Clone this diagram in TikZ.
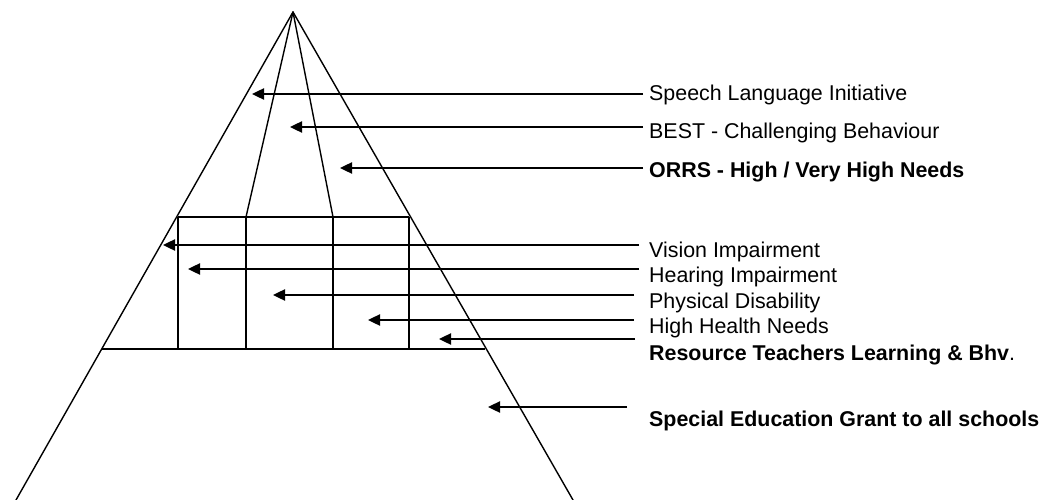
\documentclass[tikz,border=0pt]{standalone}
\usepackage{fontspec}
\setmainfont{Liberation Sans}
\usetikzlibrary{arrows.meta}
\begin{document}
\begin{tikzpicture}[x=1pt,y=-1pt,
  edge/.style={line width=1.4pt,line cap=round,line join=round},
  gridline/.style={line width=1.6pt},
  pointer/.style={line width=2.4pt,-{Triangle[length=12pt,width=11pt]}},
  lbl/.style={anchor=base west,inner sep=0pt,font=\fontsize{21.4}{25}\selectfont},
  blbl/.style={anchor=base west,inner sep=0pt,font=\fontsize{21.4}{25}\selectfont\bfseries}]
\useasboundingbox (0,0) rectangle (1044,500);
% triangle
\coordinate (apex) at (293,12);
\coordinate (bl) at (16,500);
\coordinate (br) at (573,500);
\coordinate (ml) at (102,349);
\coordinate (mr) at (485,349);
\coordinate (b1) at (178,217);
\coordinate (b2) at (246,217);
\coordinate (b3) at (333,217);
\coordinate (b4) at (409,217);
\coordinate (c1) at (178,349);
\coordinate (c2) at (246,349);
\coordinate (c3) at (333,349);
\coordinate (c4) at (409,349);
\draw[edge] (bl) -- (apex) -- (br);
\draw[edge] (apex) -- (b2);
\draw[edge] (apex) -- (b3);
\draw[gridline] (ml) -- (mr);
\draw[gridline] (b1) -- (b4);
\draw[gridline] (b1) -- (c1);
\draw[gridline] (b2) -- (c2);
\draw[gridline] (b3) -- (c3);
\draw[gridline] (b4) -- (c4);
% labels
\node[lbl]  (t1) at (649,101) {Speech Language Initiative};
\node[lbl]  (t2) at (649,139) {BEST - Challenging Behaviour};
\node[blbl] (t3) at (649,178) {ORRS - High / Very High Needs};
\node[lbl]  (t4) at (649,257) {Vision Impairment};
\node[lbl]  (t5) at (649,282) {Hearing Impairment};
\node[lbl]  (t6) at (649,308) {Physical Disability};
\node[lbl]  (t7) at (649,333) {High Health Needs};
\node[lbl]  (t8) at (649,360) {\textbf{Resource Teachers Learning \& Bhv}.};
\node[blbl] (t9) at (649,426) {Special Education Grant to all schools};
% arrow ends
\coordinate (s1) at (643,94);  \coordinate (e1) at (252,94);
\coordinate (s2) at (643,127); \coordinate (e2) at (290,127);
\coordinate (s3) at (643,168); \coordinate (e3) at (340,168);
\coordinate (s4) at (639,245); \coordinate (e4) at (163,245);
\coordinate (s5) at (639,269); \coordinate (e5) at (188,269);
\coordinate (s6) at (634,295); \coordinate (e6) at (273,295);
\coordinate (s7) at (634,320); \coordinate (e7) at (368,320);
\coordinate (s8) at (635,339); \coordinate (e8) at (439,339);
\coordinate (s9) at (627,407); \coordinate (e9) at (488,407);
\foreach \i in {1,...,9} \draw[pointer] (s\i) -- (e\i);
\end{tikzpicture}
\end{document}
